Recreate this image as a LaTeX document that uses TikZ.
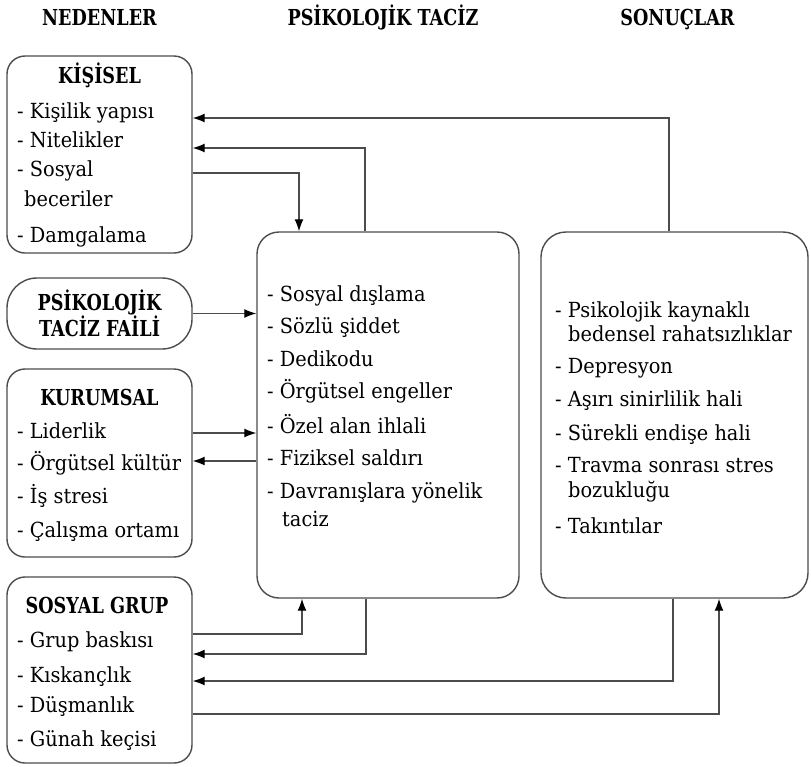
\documentclass[tikz,border=0pt]{standalone}
\usepackage{fontspec}
\setmainfont{DejaVu Serif}
\newfontfamily\bodyfont[FakeStretch=0.93]{DejaVu Serif}
\newfontfamily\headfont[FakeStretch=0.8]{DejaVu Serif}
\usetikzlibrary{
    arrows.meta,
    shapes,
    positioning,
    calc
}

\begin{document}
\begin{tikzpicture}[x=1pt, y=-1pt,
        box/.style={
            % The shape:
            rectangle, rounded corners=18pt,
            % The border
            draw=black!70, line width=1.4pt,
            inner sep=0pt},
        head/.style={anchor=base, inner sep=0pt,
            font=\headfont\bfseries\fontsize{22}{23}\selectfont},
        item/.style={anchor=base west, inner sep=0pt,
            font=\bodyfont\fontsize{20.8}{24}\selectfont},
        arr/.style={draw=black!70, line width=1.3pt,
            -{Latex[length=12pt,width=9pt,color=black]}}]
        \useasboundingbox (0,0) rectangle (811,766);

        % column headers
        \node[head] (hNeden) at (99.5,25) {NEDENLER};
        \node[head] (hTaciz) at (383,25) {PSİKOLOJİK TACİZ};
        \node[head] (hSonuc) at (677.5,25) {SONUÇLAR};

        % boxes
        \node[box, minimum width=185pt, minimum height=197pt] (kisisel) at (99.5,154.5) {};
        \node[box, rounded corners=30pt, minimum width=185pt, minimum height=71pt,
              align=center, font=\headfont\bfseries\fontsize{22}{24}\selectfont]
              (fail) at (99.5,313.5) {PSİKOLOJİK\\TACİZ FAİLİ};
        \node[box, minimum width=185pt, minimum height=188pt] (kurumsal) at (99.5,463) {};
        \node[box, minimum width=185pt, minimum height=186pt] (sosyal) at (99.5,670) {};
        \node[box, rounded corners=22pt, minimum width=262pt, minimum height=366pt] (orta) at (388,415) {};
        \node[box, rounded corners=25pt, minimum width=267pt, minimum height=366pt] (sonuc) at (674.5,415) {};

        % box titles
        \node[head] (tKisisel) at (99.5,83) {KİŞİSEL};
        \node[head] (tKurumsal) at (99.5,405) {KURUMSAL};
        \node[head] (tSosyal) at (97,613) {SOSYAL GRUP};

        % box contents
        \foreach \t/\x/\y [count=\i] in {- Kişilik yapısı/17/118, - Nitelikler/17/147,
            - Sosyal/17/176, beceriler/24/206, - Damgalama/17/242}{
          \node[item] (kis\i) at (\x,\y) {\t};
        }
        \foreach \t/\x/\y [count=\i] in {- Liderlik/17/438, - Örgütsel kültür/17/470,
            - İş stresi/17/503, - Çalışma ortamı/17/537}{
          \node[item] (kur\i) at (\x,\y) {\t};
        }
        \foreach \t/\x/\y [count=\i] in {- Grup baskısı/17/647, - Kıskançlık/17/682,
            - Düşmanlık/17/712, - Günah keçisi/17/746}{
          \node[item] (sos\i) at (\x,\y) {\t};
        }
        \foreach \t/\x/\y [count=\i] in {- Sosyal dışlama/267/301, - Sözlü şiddet/267/333,
            - Dedikodu/267/366, - Örgütsel engeller/267/398, - Özel alan ihlali/267/433,
            - Fiziksel saldırı/267/465, - Davranışlara yönelik/267/498, taciz/282/526}{
          \node[item] (ort\i) at (\x,\y) {\t};
        }
        \foreach \t/\x/\y [count=\i] in {- Psikolojik kaynaklı/555/317,
            bedensel rahatsızlıklar/568/341, - Depresyon/555/373,
            - Aşırı sinirlilik hali/555/406, - Sürekli endişe hali/555/440,
            - Travma sonrası stres/555/472, bozukluğu/568/497, - Takıntılar/555/533}{
          \node[item] (son\i) at (\x,\y) {\t};
        }

        % bend points
        \coordinate (r1) at (669,118);
        \coordinate (r2) at (365,148);
        \coordinate (r3) at (299,173);
        \coordinate (r5) at (0,433);
        \coordinate (r6) at (0,461);
        \coordinate (r7) at (302,634);
        \coordinate (r8) at (366,654);
        \coordinate (r9) at (673,681);
        \coordinate (r10) at (719,714);

        \draw[arr] (sonuc.north -| r1) |- (kisisel.east |- r1);
        \draw[arr] (orta.north -| r2) |- (kisisel.east |- r2);
        \draw[arr] (kisisel.east |- r3) -| (orta.north -| r3);
        \draw[arr] (fail.east) -- (orta.west |- fail.east);
        \draw[arr] (kurumsal.east |- r5) -- (orta.west |- r5);
        \draw[arr] (orta.west |- r6) -- (kurumsal.east |- r6);
        \draw[arr] (sosyal.east |- r7) -| (orta.south -| r7);
        \draw[arr] (orta.south -| r8) |- (sosyal.east |- r8);
        \draw[arr] (sonuc.south -| r9) |- (sosyal.east |- r9);
        \draw[arr] (sosyal.east |- r10) -| (sonuc.south -| r10);

\end{tikzpicture}
\end{document}
